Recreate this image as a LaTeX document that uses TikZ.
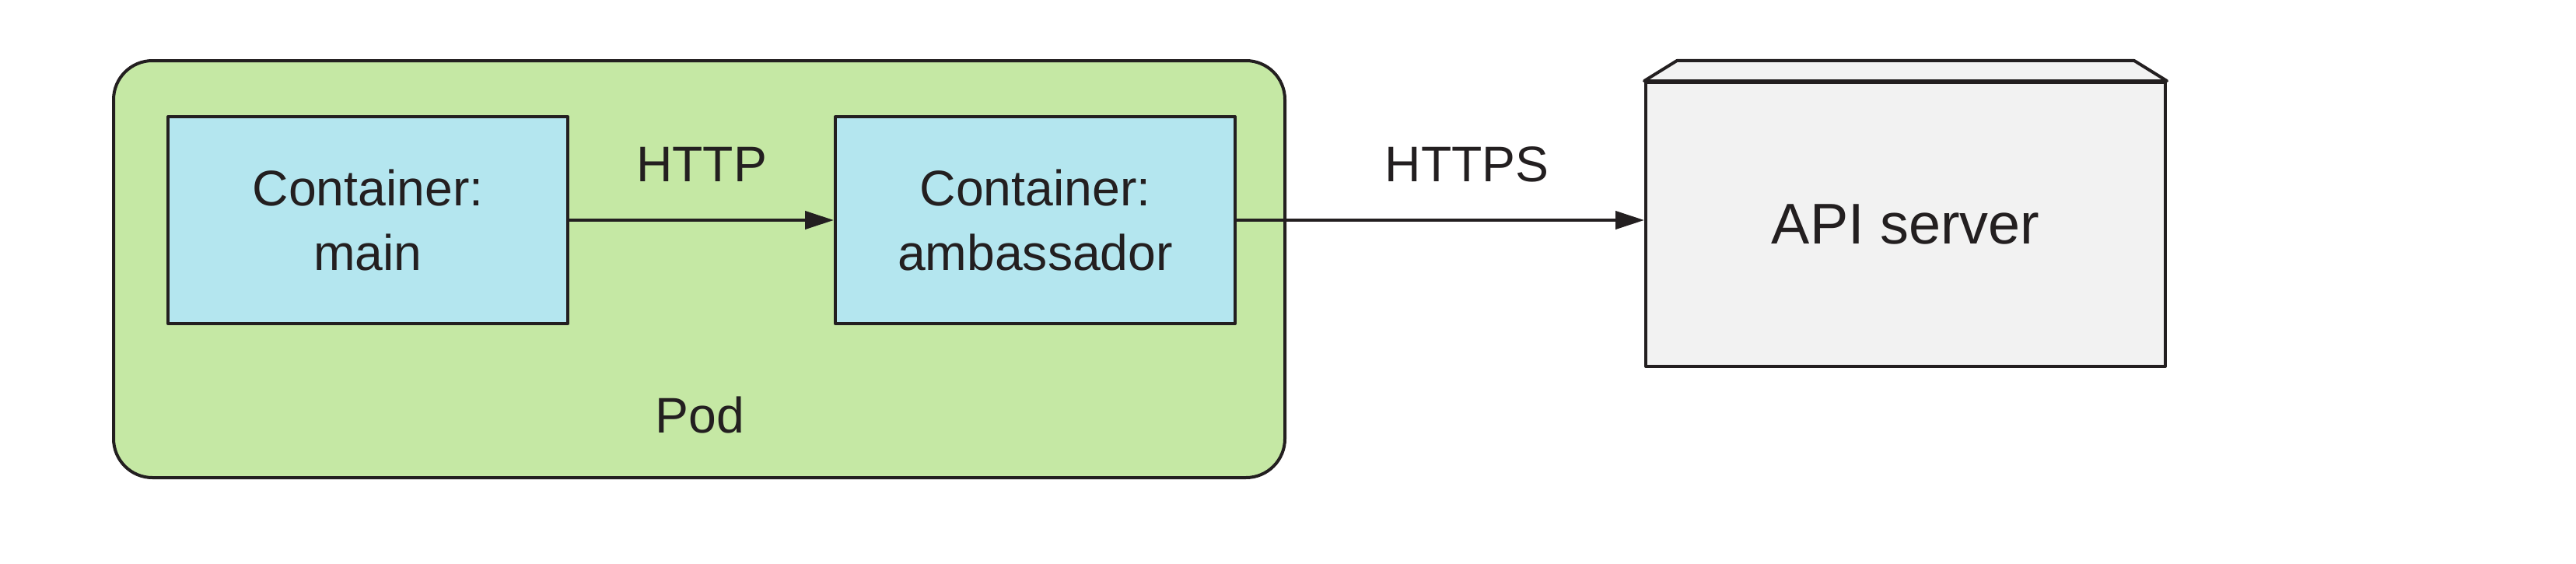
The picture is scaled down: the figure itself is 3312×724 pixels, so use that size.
\documentclass[tikz,border=0pt]{standalone}
\usepackage{fontspec}
\setmainfont{Liberation Sans}
\usetikzlibrary{arrows.meta}
\definecolor{ink}{HTML}{231F20}
\definecolor{podgreen}{HTML}{C5E8A4}
\definecolor{contblue}{HTML}{B4E6EF}
\definecolor{servergray}{HTML}{F2F2F2}
\tikzset{
  every node/.style={font=\fontsize{18.3}{23.5}\selectfont, text=ink},
  podbox/.style={draw=ink, line width=0.4mm, fill=podgreen, rounded corners=5mm,
    minimum width=150.6mm, minimum height=53.6mm, inner sep=0},
  contbox/.style={draw=ink, line width=0.4mm, fill=contblue, align=center,
    minimum width=51.4mm, minimum height=26.6mm, inner sep=0},
  serverbox/.style={draw=ink, line width=0.4mm, fill=servergray,
    minimum width=66.8mm, minimum height=36.5mm, inner sep=0,
    font=\fontsize{21}{25}\selectfont},
  conn/.style={draw=ink, line width=0.4mm, -{Triangle[length=3.7mm,width=2.3mm]}},
  lbl/.style={anchor=base, inner sep=0},
}
\begin{document}
\begin{tikzpicture}[x=0.1mm, y=-0.1mm, line join=round]
\useasboundingbox (0,0) rectangle (3312,724);
% pod
\node[podbox] (pod) at (899,346) {};
\node[lbl] (podlabel) at (900,556) {Pod};
% containers
\node[contbox] (main) at (473,283) {Container:\\main};
\node[contbox] (amb) at (1331,283) {Container:\\ambassador};
% API server
\node[serverbox] (api) at (2450,288.5) {API server};
\coordinate (lidl) at (2156,78);
\coordinate (lidr) at (2744,78);
\draw[draw=ink, line width=0.4mm, fill=servergray]
  (api.north west) -- (lidl) -- (lidr) -- (api.north east) -- cycle;
% connectors
\draw[conn] (main.east) -- (amb.west);
\node[lbl] (http) at (902,233) {HTTP};
\draw[conn] (amb.east) -- (amb.east -| api.west);
\node[lbl] (https) at (1886,233) {HTTPS};
\end{tikzpicture}
\end{document}
